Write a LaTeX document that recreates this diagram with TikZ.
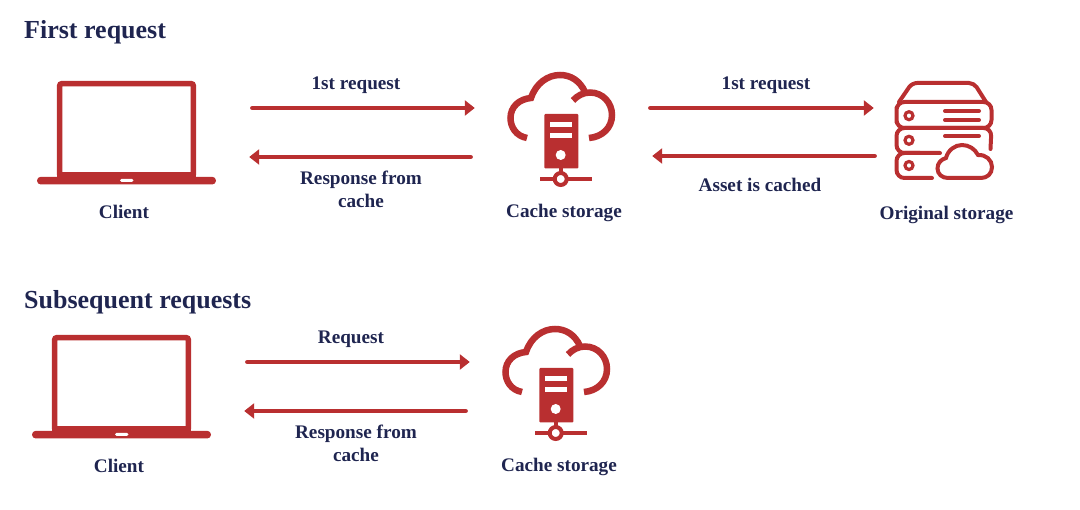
\documentclass[tikz,border=0pt]{standalone}
\usepackage{fontspec}
\setmainfont{Liberation Serif}
\usetikzlibrary{arrows.meta}
\definecolor{iconred}{HTML}{B92F30}
\definecolor{textnavy}{HTML}{1F2550}
\tikzset{
    flow/.style={iconred,line width=4.2pt,line cap=round,-{Triangle[length=10pt,width=15pt]}},
    heading/.style={anchor=west,inner sep=0pt,text=textnavy,font=\bfseries\fontsize{26}{31}\selectfont},
    label/.style={align=center,inner sep=0pt,text=textnavy,font=\bfseries\fontsize{19.2}{23}\selectfont},
    iconbox/.style={inner sep=0pt,minimum height=100pt},
    pics/laptop/.style={code={
        \draw[iconred,line width=5.5pt,rounded corners=2pt,fill=white] (59.7,175) -- (59.7,83.7) -- (193.3,83.7) -- (193.3,175);
        \fill[iconred] (57,172.5) rectangle (196,178);
        \fill[iconred,rounded corners=3.8pt] (37,176.8) rectangle (216,184.5);
        \fill[white,rounded corners=1.5pt] (120,178.8) rectangle (133.5,181.8);
    }},
    pics/cachecloud/.style={code={
        \draw[iconred,line width=6.5pt] (527,138) .. controls (516,136) and (510.5,127) .. (510.5,118)
            .. controls (510.5,107) and (519,99) .. (531,98)
            .. controls (536,83) and (548,75) .. (560,75)
            .. controls (571,75) and (580,81) .. (585,92);
        \draw[iconred,line width=6.5pt] (573,100.5) .. controls (577,96) and (583,92.5) .. (590,92.5)
            .. controls (603,92.5) and (612,103) .. (612,115)
            .. controls (612,128) and (602,137) .. (589,138);
        \fill[iconred,rounded corners=1pt] (544.3,114) rectangle (578.3,168.5);
        \fill[white] (550,122.3) rectangle (572,126.7);
        \fill[white] (550,133.5) rectangle (572,138);
        \fill[white] (560.7,155) circle (5);
        \fill[iconred] (558.7,168) rectangle (562.7,175);
        \draw[iconred,line width=4.5pt] (540,179) -- (592,179);
        \draw[iconred,line width=4pt,fill=white] (560.7,179) circle (6);
    }},
    pics/originserver/.style={code={
        \begin{scope}[iconred,line width=4pt,line cap=round]
        \draw[rounded corners=5pt] (899,102) -- (912,83) -- (974,83) -- (986,102);
        \draw[rounded corners=8pt] (896.5,115) -- (896.5,102) -- (991.5,102) -- (991.5,128) -- (896.5,128) -- cycle;
        \draw[rounded corners=8pt] (940,153) -- (896.5,153) -- (896.5,128) -- (991.5,128) -- (990.5,149);
        \draw[rounded corners=8pt] (932,178) -- (896.5,178) -- (896.5,153) -- (920,153);
        \foreach \y in {115.7,140.3,165.5}
        {
            \draw[line width=3.2pt] (909,\y) circle (4);
        }
        \foreach \y in {111,120,136}
        {
            \draw (945,\y) -- (979,\y);
        }
        \draw[fill=white] (948,178) .. controls (942,178) and (937.5,174) .. (937.5,168.5)
            .. controls (937.5,163) and (941,159.5) .. (946,158)
            .. controls (948,150) and (955,145) .. (962,145)
            .. controls (969,145) and (975,149) .. (978,155)
            .. controls (986,154.5) and (992,160) .. (992,167)
            .. controls (992,174) and (987,178) .. (981,178) -- cycle;
        \end{scope}
    }}
}
\begin{document}
\begin{tikzpicture}[x=1pt,y=-1pt]
    \useasboundingbox (0,0) rectangle (1080,510);

    % First request
    \node[heading] (firsthead) at (24,32) {First request};

    \pic at (0,0) {laptop};
    \pic at (0,0) {cachecloud};
    \pic at (0,0) {originserver};

    \node[iconbox,minimum width=250pt] (clienta) at (125,132) {};
    \node[iconbox,minimum width=176pt] (cachea) at (561,132) {};
    \node[iconbox,minimum width=140pt] (origina) at (944,132) {};

    \node[label] (clientatext) at (124,212) {Client};
    \node[label] (cacheatext) at (564,213) {Cache storage};
    \node[label] (originatext) at (946.5,215) {Original storage};

    \draw[flow] ([shift={(2,-24)}]clienta.east) -- ([shift={(2,-24)}]cachea.west);
    \draw[flow] ([shift={(-2,25)}]cachea.west) -- ([shift={(-1,25)}]clienta.east);
    \draw[flow] ([shift={(1,-24)}]cachea.east) -- ([shift={(0,-24)}]origina.west);
    \draw[flow] ([shift={(1,24)}]origina.west) -- ([shift={(3,24)}]cachea.east);

    \node[label] (reqa) at (356,85) {1st request};
    \node[label] (respa) at (361,189.5) {Response from\\cache};
    \node[label] (reqb) at (766,85) {1st request};
    \node[label] (cached) at (760,184.5) {Asset is cached};

    % Subsequent requests
    \node[heading] (nexthead) at (24,302) {Subsequent requests};

    \pic at (-5,254) {laptop};
    \pic at (-5,254) {cachecloud};

    \node[iconbox,minimum width=250pt] (clientb) at (120,386) {};
    \node[iconbox,minimum width=176pt] (cacheb) at (556,386) {};

    \node[label] (clientbtext) at (119,466) {Client};
    \node[label] (cachebtext) at (559,467) {Cache storage};

    \draw[flow] ([shift={(2,-24)}]clientb.east) -- ([shift={(2,-24)}]cacheb.west);
    \draw[flow] ([shift={(-2,25)}]cacheb.west) -- ([shift={(-1,25)}]clientb.east);

    \node[label] (reqc) at (351,339) {Request};
    \node[label] (respb) at (356,443.5) {Response from\\cache};
\end{tikzpicture}
\end{document}
